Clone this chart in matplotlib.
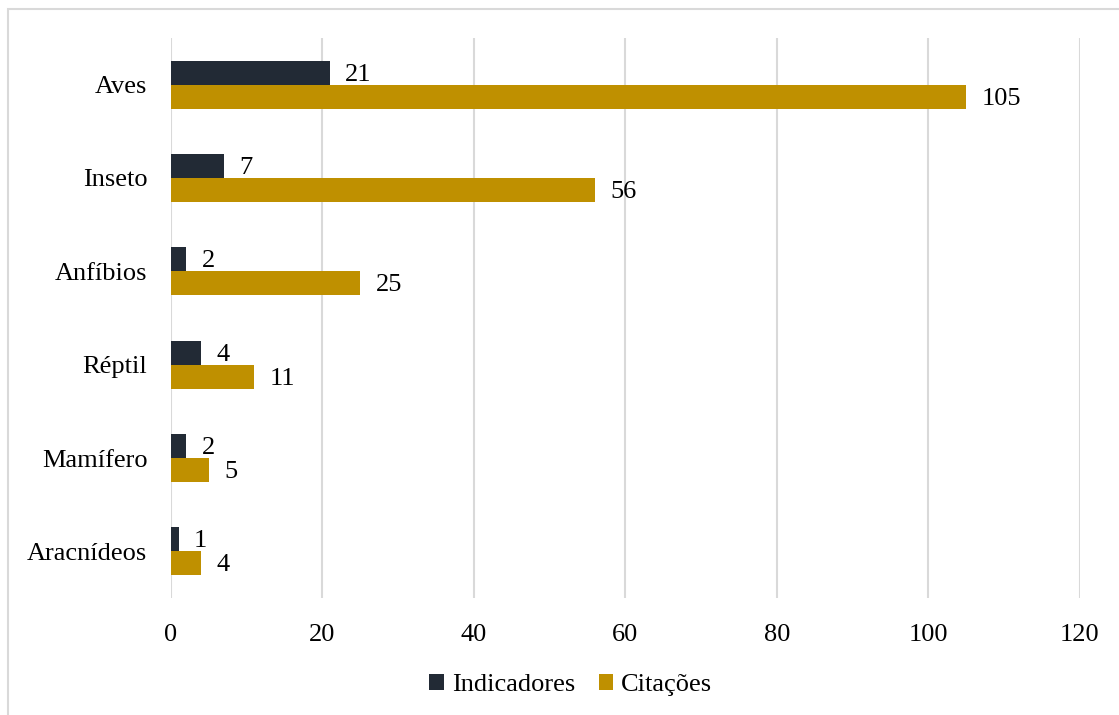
import numpy as np
import matplotlib
matplotlib.use("Agg")
import matplotlib.pyplot as plt
from matplotlib.patches import Rectangle

plt.rcParams["font.family"] = ["Liberation Serif", "DejaVu Serif"]

categorias = ["Aves", "Inseto", "Anfíbios", "Réptil", "Mamífero", "Aracnídeos"]
indicadores = [21, 7, 2, 4, 2, 1]
citacoes = [105, 56, 25, 11, 5, 4]

COR_IND = "#222a35"
COR_CIT = "#bf9000"
GRADE = "#d9d9d9"

fig = plt.figure(figsize=(11.19, 7.15), dpi=100)
ax = fig.add_axes([0.1528, 0.1636, 0.8123, 0.7833])

y = np.arange(len(categorias))
h = 0.256
b1 = ax.barh(y - h / 2, indicadores, height=h, color=COR_IND, label="Indicadores", zorder=3)
b2 = ax.barh(y + h / 2, citacoes, height=h, color=COR_CIT, label="Citações", zorder=3)

for bars, vals in ((b1, indicadores), (b2, citacoes)):
    for bar, v in zip(bars, vals):
        ax.annotate(str(v), (bar.get_width(), bar.get_y() + bar.get_height() / 2),
                    xytext=(11, -1.5), textcoords="offset points",
                    ha="left", va="center", fontsize=19, color="#000000")

ax.set_xlim(0, 120)
ax.set_ylim(len(categorias) - 0.5, -0.5)
ax.set_xticks(np.arange(0, 121, 20))
ax.set_yticks(y)
ax.set_yticklabels(categorias)
ax.tick_params(axis="both", length=0, labelsize=19, colors="#000000")
ax.tick_params(axis="x", pad=19)
ax.tick_params(axis="y", pad=17)
ax.grid(axis="x", color=GRADE, linewidth=1.5, zorder=0)
for s in ax.spines.values():
    s.set_visible(False)

fig.legend(handles=[b1, b2], loc="center", bbox_to_anchor=(0.51, 0.042), ncol=2,
           frameon=False, fontsize=19, handlelength=0.55, handleheight=0.55,
           handletextpad=0.3, columnspacing=0.9)

# light outer frame
fig.add_artist(Rectangle((8 / 1119, -0.05), 1.1, 1 - 9 / 715 + 0.05,
                         transform=fig.transFigure, fill=False,
                         edgecolor=GRADE, linewidth=1.5))

fig.savefig("out.png", dpi=100)
